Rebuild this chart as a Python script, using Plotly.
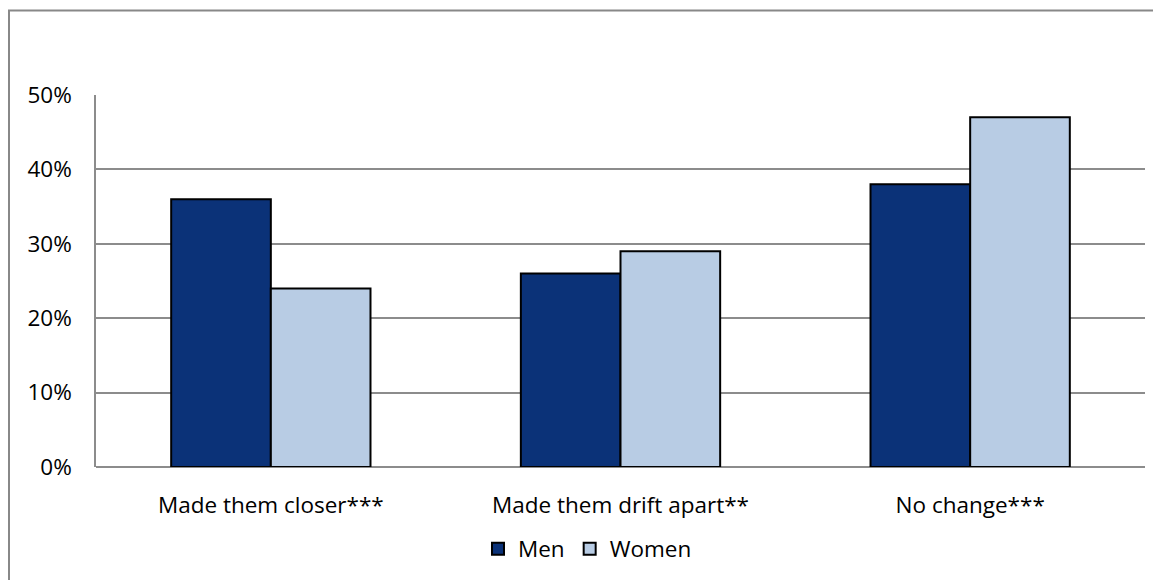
import plotly.graph_objects as go

categories = ["Made them closer***", "Made them drift apart**", "No change***"]
men = [36, 26, 38]
women = [24, 29, 47]
y_ticks = [0, 10, 20, 30, 40, 50]
y_tick_labels = ["0%", "10%", "20%", "30%", "40%", "50%"]

W, H = 1153, 580
L, R, T, B = 96, 8, 95, 113
pw, ph = W - L - R, H - T - B

def px_to_paper_x(px):
    return (px - L) / pw

def px_to_paper_y(py):
    return (H - B - py) / ph

FONT = "Open Sans, Calibri, Carlito, sans-serif"
FS = 22.5

fig = go.Figure()
fig.add_trace(go.Bar(
    x=categories, y=men, name="Men",
    marker=dict(color="#0B3278", line=dict(color="#000000", width=2)),
))
fig.add_trace(go.Bar(
    x=categories, y=women, name="Women",
    marker=dict(color="#B8CCE4", line=dict(color="#000000", width=2)),
))

fig.update_layout(
    width=W, height=H,
    margin=dict(l=L, r=R, t=T, b=B),
    paper_bgcolor="white", plot_bgcolor="white",
    barmode="group", bargap=0.43, bargroupgap=0,
    font=dict(family=FONT, size=FS, color="#000000"),
    showlegend=True,
    legend=dict(orientation="h", x=px_to_paper_x(478), y=px_to_paper_y(549),
                xanchor="left", yanchor="middle",
                font=dict(family=FONT, size=FS), itemwidth=30,
                tracegroupgap=0, bgcolor="rgba(0,0,0,0)"),
    xaxis=dict(showgrid=False, showline=False, ticks="", tickfont=dict(size=FS),
               ticklabelstandoff=22),
    yaxis=dict(range=[0, 50], tickvals=y_ticks, ticktext=y_tick_labels,
               showgrid=True, gridcolor="#8C8C8C", gridwidth=1.5,
               showline=True, linecolor="#8C8C8C", linewidth=1.5,
               zeroline=True, zerolinecolor="#8C8C8C", zerolinewidth=1.5,
               ticks="", ticklabelstandoff=18, tickfont=dict(size=FS)),
    shapes=[dict(type="rect", xref="paper", yref="paper",
                 x0=px_to_paper_x(9), x1=px_to_paper_x(1200),
                 y0=px_to_paper_y(640), y1=px_to_paper_y(10.5),
                 line=dict(color="#888888", width=2), fillcolor="rgba(0,0,0,0)",
                 layer="below")],
)

fig.write_html("out.html")
